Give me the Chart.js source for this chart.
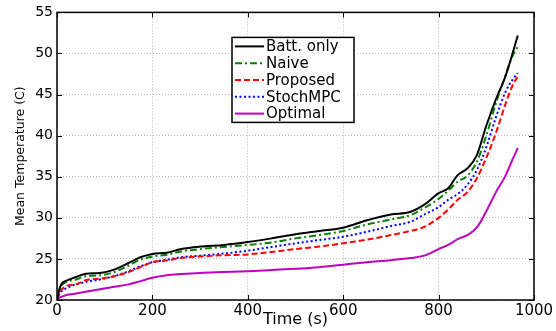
<!DOCTYPE html>
<html>
<head>
<meta charset="utf-8">
<script src="https://cdn.jsdelivr.net/npm/chart.js@4"></script>
<style>
  html, body { margin: 0; padding: 0; background: #fff; }
  #wrap { width: 556px; height: 331px; }
</style>
</head>
<body>
<div id="wrap"><canvas id="chart"></canvas></div>
<script>
const times = [0, 5, 10, 20, 40, 60, 90, 120, 150, 175, 200, 230, 260, 300, 350, 400, 450, 500, 550, 600, 650, 700, 740, 770, 800, 820, 840, 860, 880, 900, 920, 940, 955, 966];

const battOnly = [20, 21.3, 22.0, 22.35, 22.8, 23.2, 23.3, 23.7, 24.5, 25.2, 25.6, 25.75, 26.2, 26.5, 26.7, 27.05, 27.5, 28.0, 28.4, 28.8, 29.7, 30.4, 30.7, 31.6, 33.0, 33.6, 35.2, 36.0, 37.6, 41.2, 44.4, 47.2, 50.0, 52.2];
const naive = [20, 21.2, 21.8, 22.2, 22.5, 22.9, 23.0, 23.4, 24.2, 24.9, 25.3, 25.5, 25.9, 26.2, 26.45, 26.7, 27.0, 27.5, 27.9, 28.4, 29.2, 29.8, 30.3, 31.2, 32.3, 33.3, 34.4, 35.1, 36.8, 40.0, 43.9, 47.3, 49.7, 50.8];
const proposed = [20, 20.9, 21.3, 21.7, 21.9, 22.4, 22.6, 22.9, 23.4, 24.0, 24.6, 24.8, 25.1, 25.3, 25.45, 25.55, 25.85, 26.2, 26.5, 26.9, 27.35, 27.9, 28.4, 28.9, 30.0, 31.0, 32.2, 33.1, 34.8, 37.3, 40.3, 43.8, 46.1, 47.2];
const stochMPC = [20, 20.7, 21.1, 21.45, 21.9, 22.2, 22.5, 22.9, 23.5, 24.1, 24.6, 24.9, 25.2, 25.4, 25.65, 26.0, 26.45, 26.9, 27.3, 27.7, 28.3, 29.0, 29.5, 30.4, 31.3, 32.2, 32.9, 34.0, 35.8, 38.6, 42.2, 45.3, 46.8, 47.6];
const optimal = [20.1, 20.3, 20.4, 20.6, 20.8, 21.0, 21.3, 21.6, 21.9, 22.3, 22.7, 23.0, 23.15, 23.3, 23.4, 23.5, 23.65, 23.8, 24.0, 24.3, 24.6, 24.85, 25.1, 25.4, 26.2, 26.7, 27.4, 27.9, 28.8, 30.8, 33.1, 35.1, 37.1, 38.5];

const xTicks = [0, 200, 400, 600, 800, 1000];
const yTicks = [20, 25, 30, 35, 40, 45, 50, 55];

const font = "DejaVu Sans";

function series(values) {
  return times.map((t, i) => ({ x: t, y: values[i] }));
}

function line(label, values, color, dash) {
  return {
    label,
    data: series(values),
    borderColor: color,
    backgroundColor: color,
    borderWidth: 2,
    borderDash: dash,
    pointRadius: 0,
    fill: false,
    cubicInterpolationMode: "monotone",
  };
}

// box round the plot with inward tick marks, matlab style
const frame = {
  id: "frame",
  afterDatasetsDraw(chart) {
    const { ctx, chartArea: a, scales } = chart;
    ctx.save();
    ctx.strokeStyle = "#000";
    ctx.lineWidth = 1;
    ctx.beginPath();
    scales.x.ticks.forEach((t) => {
      const px = Math.round(scales.x.getPixelForValue(t.value)) + 0.5;
      ctx.moveTo(px, a.bottom);
      ctx.lineTo(px, a.bottom - 5);
      ctx.moveTo(px, a.top);
      ctx.lineTo(px, a.top + 5);
    });
    scales.y.ticks.forEach((t) => {
      const py = Math.round(scales.y.getPixelForValue(t.value)) + 0.5;
      ctx.moveTo(a.left, py);
      ctx.lineTo(a.left + 5, py);
      ctx.moveTo(a.right, py);
      ctx.lineTo(a.right - 5, py);
    });
    ctx.stroke();
    ctx.lineWidth = 1.5;
    ctx.strokeRect(a.left, a.top, a.right - a.left, a.bottom - a.top);
    ctx.restore();
  },
};

// legend box inside the plot
const boxLegend = {
  id: "boxLegend",
  afterDraw(chart) {
    const { ctx, chartArea: a } = chart;
    const left = a.left + 175;
    const top = a.top + 25;
    const w = 122;
    const h = 85;
    ctx.save();
    ctx.fillStyle = "#fff";
    ctx.fillRect(left, top, w, h);
    ctx.strokeStyle = "#000";
    ctx.lineWidth = 1.5;
    ctx.strokeRect(left, top, w, h);
    ctx.font = `15px "${font}"`;
    ctx.textBaseline = "middle";
    chart.data.datasets.forEach((ds, i) => {
      const y = top + 9 + i * 16.8;
      ctx.strokeStyle = ds.borderColor;
      ctx.lineWidth = ds.borderWidth;
      ctx.setLineDash(ds.borderDash || []);
      ctx.beginPath();
      ctx.moveTo(left + 3, y);
      ctx.lineTo(left + 32, y);
      ctx.stroke();
      ctx.setLineDash([]);
      ctx.fillStyle = "#000";
      ctx.fillText(ds.label, left + 34, y + 1);
    });
    ctx.restore();
  },
};

const ctx = document.getElementById("chart").getContext("2d");
new Chart(ctx, {
  type: "line",
  data: {
    datasets: [
      line("Batt. only", battOnly, "#000000", []),
      line("Naive", naive, "#0a800a", [7, 3, 2, 3]),
      line("Proposed", proposed, "#ff0000", [6, 3]),
      line("StochMPC", stochMPC, "#0000ff", [2, 2.5]),
      line("Optimal", optimal, "#bf00bf", []),
    ],
  },
  options: {
    responsive: true,
    maintainAspectRatio: false,
    animation: false,
    layout: { padding: { top: 12, right: 22, left: 0, bottom: 0 } },
    plugins: {
      legend: { display: false },
      tooltip: { enabled: false },
    },
    scales: {
      x: {
        type: "linear",
        min: 0,
        max: 1000,
        afterBuildTicks: (scale) => {
          scale.ticks = xTicks.map((v) => ({ value: v }));
        },
        afterFit: (scale) => {
          scale.height = 31;
        },
        ticks: {
          color: "#000",
          font: { family: font, size: 15 },
          padding: 2,
          maxRotation: 0,
          callback: (value) => String(value),
        },
        grid: { color: "#b4b4b4", lineWidth: 1, drawTicks: false },
        border: { display: false, dash: [1, 2] },
        title: {
          display: true,
          text: "Time (s)",
          color: "#000",
          font: { family: font, size: 16 },
          padding: { top: 0, bottom: 2 },
        },
      },
      y: {
        min: 20,
        max: 55,
        afterBuildTicks: (scale) => {
          scale.ticks = yTicks.map((v) => ({ value: v }));
        },
        afterFit: (scale) => {
          scale.width = 57;
        },
        ticks: {
          color: "#000",
          font: { family: font, size: 14 },
          padding: 4,
          callback: (value) => String(value),
        },
        grid: { color: "#b4b4b4", lineWidth: 1, drawTicks: false },
        border: { display: false, dash: [1, 2] },
        title: {
          display: true,
          text: "Mean Temperature (C)",
          color: "#000",
          font: { family: font, size: 12.5 },
          padding: { top: 13, bottom: 0 },
        },
      },
    },
  },
  plugins: [frame, boxLegend],
});
</script>
</body>
</html>
